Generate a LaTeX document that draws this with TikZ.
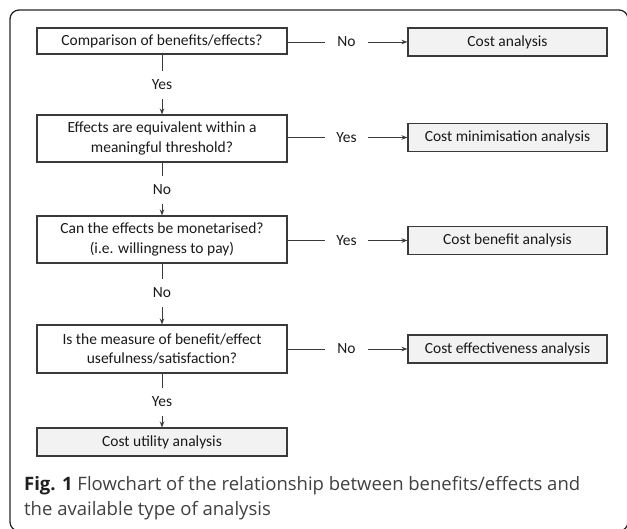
\documentclass[tikz,border=0pt]{standalone}
\usepackage{fontspec}
\setmainfont{Carlito}
\newfontfamily\capfont{Open Sans}
\usetikzlibrary{arrows.meta}
\definecolor{lc}{HTML}{3A3A3A}
\definecolor{boxfill}{HTML}{F2F2F2}
\begin{document}
\begin{tikzpicture}[x=1pt,y=-1pt,
  every node/.style={font=\fontsize{15.5}{19.5}\selectfont, text=black!90},
  qbox/.style={draw=lc, line width=1.1pt, minimum width=250pt, inner sep=0pt, align=center},
  rbox/.style={draw=lc, line width=1.1pt, fill=boxfill, minimum width=199pt, minimum height=28pt, inner sep=0pt},
  hlab/.style={minimum width=43pt, inner sep=0pt},
  vlab/.style={minimum height=28pt, inner sep=0pt},
  conn/.style={draw=lc, line width=1pt},
  arr/.style={conn, -{Stealth[length=6pt,width=4.5pt]}}
  ]
\useasboundingbox (0,0) rectangle (627,528);
% frame
\draw[line width=1.3pt, black!85, rounded corners=9pt] (10,10) rectangle (628,531);
% left column
\node[qbox, minimum height=26pt] (q1) at (162,41) {Comparison of benefits/effects?};
\node[qbox, minimum height=47pt] (q2) at (162,138.5) {Effects are equivalent within a\\meaningful threshold?};
\node[qbox, minimum height=47pt] (q3) at (162,239.5) {Can the effects be monetarised?\\(i.e. willingness to pay)};
\node[qbox, minimum height=48pt] (q4) at (162,349) {Is the measure of benefit/effect\\usefulness/satisfaction?};
\node[rbox, minimum width=250pt] (cu) at (162,442) {Cost utility analysis};
% right column
\node[rbox] (ca) at (507.5,42) {Cost analysis};
\node[rbox] (cm) at (507.5,137.5) {Cost minimisation analysis};
\node[rbox] (cb) at (507.5,240.5) {Cost benefit analysis};
\node[rbox] (ce) at (507.5,349) {Cost effectiveness analysis};
% horizontal labels
\node[hlab] (h1) at (346.5,42) {No};
\node[hlab] (h2) at (346.5,137.5) {Yes};
\node[hlab] (h3) at (346.5,240.5) {Yes};
\node[hlab] (h4) at (346.5,349) {No};
% vertical labels
\node[vlab] (v1) at (162,85) {Yes};
\node[vlab] (v2) at (162,190) {No};
\node[vlab] (v3) at (162,293) {No};
\node[vlab] (v4) at (162,402) {Yes};
% connectors
\draw[conn] (q1.east |- h1) -- (h1.west);
\draw[arr] (h1.east) -- (ca.west);
\draw[conn] (q2.east |- h2) -- (h2.west);
\draw[arr] (h2.east) -- (cm.west);
\draw[conn] (q3.east |- h3) -- (h3.west);
\draw[arr] (h3.east) -- (cb.west);
\draw[conn] (q4.east |- h4) -- (h4.west);
\draw[arr] (h4.east) -- (ce.west);
\draw[conn] (q1.south) -- (v1.north);
\draw[arr] (v1.south) -- (q2.north);
\draw[conn] (q2.south) -- (v2.north);
\draw[arr] (v2.south) -- (q3.north);
\draw[conn] (q3.south) -- (v3.north);
\draw[arr] (v3.south) -- (q4.north);
\draw[conn] (q4.south) -- (v4.north);
\draw[arr] (v4.south) -- (cu.north);
% caption
\node[anchor=base west, inner sep=0pt, font=\capfont\fontsize{18.5}{22}\selectfont, text=black!75] (cap1) at (24,490) {\textbf{\color{black!88}Fig. 1} Flowchart of the relationship between benefits/effects and};
\node[anchor=base west, inner sep=0pt, font=\capfont\fontsize{18.5}{22}\selectfont, text=black!75] (cap2) at (24,515) {the available type of analysis};
\end{tikzpicture}
\end{document}
